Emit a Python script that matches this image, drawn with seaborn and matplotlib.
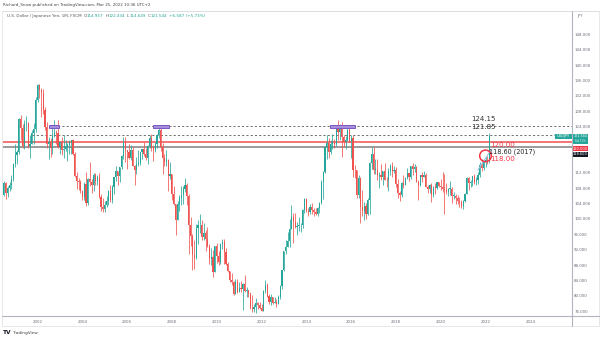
import numpy as np
import matplotlib
matplotlib.use("Agg")
import matplotlib.pyplot as plt
import seaborn as sns
from matplotlib.patches import Rectangle
from matplotlib.lines import Line2D

# ---------------- USD/JPY monthly candles (FXCM), Jul 2000 - Mar 2022 ----------------
first_month = 2000 + 6 / 12          # July 2000
first_open = 106.1
last_open = 114.957

closes = [
    109.4, 106.7, 108.1, 108.9, 110.4, 114.4,                                   # 2000 (Jul-Dec)
    116.5, 117.3, 126.0, 123.6, 119.0, 124.7, 124.9, 118.9, 119.5, 122.3, 123.5, 131.0,  # 2001
    134.7, 133.5, 132.7, 128.4, 124.0, 119.5, 119.9, 118.4, 121.6, 122.5, 122.3, 118.8,  # 2002
    119.9, 117.8, 118.1, 119.0, 119.3, 119.8, 120.6, 116.8, 111.2, 109.9, 109.6, 107.2,  # 2003
    105.7, 109.0, 104.2, 110.4, 109.6, 108.8, 111.4, 109.8, 110.9, 105.8, 103.1, 102.6,  # 2004
    103.6, 104.6, 107.2, 104.8, 108.4, 110.9, 112.5, 111.1, 113.4, 116.4, 119.7, 117.9,  # 2005
    117.4, 115.8, 117.8, 113.8, 112.6, 114.4, 114.6, 117.3, 118.1, 116.9, 115.8, 119.0,  # 2006
    121.0, 118.5, 117.8, 119.5, 121.7, 123.2, 118.7, 115.8, 114.8, 115.4, 111.2, 111.7,  # 2007
    106.4, 103.8, 99.7, 104.0, 105.5, 106.2, 107.9, 108.8, 106.0, 98.4, 95.5, 90.6,      # 2008
    89.9, 97.6, 98.3, 98.5, 95.3, 96.4, 94.7, 93.0, 89.7, 90.1, 86.3, 93.0,              # 2009
    90.3, 88.9, 93.5, 94.0, 91.3, 88.4, 86.4, 84.2, 83.5, 80.4, 83.6, 81.1,              # 2010
    82.0, 81.8, 83.1, 81.2, 81.5, 80.5, 76.8, 76.6, 77.0, 78.2, 77.6, 76.9,              # 2011
    76.2, 81.2, 82.9, 80.0, 78.3, 79.8, 78.1, 78.4, 77.9, 79.8, 82.5, 86.7,              # 2012
    91.7, 92.6, 94.2, 97.5, 100.5, 99.1, 97.9, 98.2, 98.3, 98.4, 102.4, 105.3,           # 2013
    102.0, 101.8, 103.2, 102.2, 101.8, 101.3, 102.8, 104.1, 109.7, 112.3, 118.6, 119.8,  # 2014
    117.5, 119.6, 120.1, 119.4, 124.1, 122.5, 123.9, 121.2, 119.9, 120.6, 123.1, 120.2,  # 2015
    121.1, 112.7, 112.6, 106.3, 110.7, 103.2, 102.1, 103.4, 101.4, 104.8, 114.5, 117.0,  # 2016
    112.8, 112.8, 111.4, 111.5, 110.8, 112.4, 110.2, 110.0, 112.5, 113.7, 112.5, 112.7,  # 2017
    109.2, 106.7, 106.3, 109.3, 108.8, 110.7, 111.9, 111.0, 113.7, 112.9, 113.5, 109.7,  # 2018
    108.9, 111.4, 110.9, 111.4, 108.3, 107.8, 108.7, 106.3, 108.1, 108.0, 109.5, 108.6,  # 2019
    108.4, 107.9, 107.5, 106.9, 107.8, 107.9, 105.9, 105.9, 105.5, 104.7, 104.3, 103.3,  # 2020
    104.7, 106.6, 110.7, 109.3, 109.6, 111.1, 109.7, 110.0, 111.3, 114.0, 113.2, 115.1,  # 2021
    115.1, 114.957, 121.544,                                                        # 2022
]

highs = [
    109.8, 109.5, 108.5, 109.6, 111.3, 114.6,
    119.4, 118.0, 126.2, 126.9, 124.8, 125.6, 126.7, 125.3, 121.9, 123.2, 124.9, 131.6,
    135.2, 135.1, 134.0, 133.8, 129.1, 125.1, 121.2, 121.0, 124.2, 125.7, 123.2, 125.6,
    120.2, 121.3, 121.7, 120.6, 119.7, 120.5, 120.6, 120.9, 117.4, 112.1, 110.7, 110.0,
    107.6, 109.6, 112.2, 110.6, 114.9, 110.5, 112.0, 112.0, 111.5, 111.9, 106.4, 105.4,
    104.6, 106.0, 107.5, 108.9, 108.7, 111.0, 113.7, 112.1, 113.6, 116.5, 121.4, 121.4,
    118.0, 119.4, 119.1, 118.7, 114.1, 116.0, 117.8, 117.5, 118.3, 119.9, 118.4, 119.2,
    121.9, 122.2, 119.3, 120.0, 122.1, 124.1, 124.0, 119.8, 117.0, 117.9, 115.6, 114.7,
    111.8, 108.5, 104.0, 104.7, 106.1, 108.6, 108.5, 110.7, 109.3, 106.5, 100.5, 96.2,
    94.6, 98.8, 99.7, 101.4, 99.6, 98.9, 97.0, 97.8, 93.4, 92.4, 92.0, 93.1,
    93.8, 91.8, 93.8, 94.8, 94.9, 92.4, 88.8, 86.5, 85.9, 84.0, 84.4, 84.5,
    83.7, 84.0, 83.3, 85.5, 82.2, 81.6, 81.0, 80.2, 77.9, 79.5, 78.3, 78.3,
    77.9, 81.6, 84.2, 83.3, 80.4, 80.6, 79.8, 79.6, 79.2, 80.3, 82.8, 86.8,
    91.8, 94.5, 96.7, 99.9, 103.7, 101.5, 101.5, 99.2, 100.6, 99.0, 102.6, 105.4,
    105.4, 102.8, 103.8, 104.1, 102.8, 102.8, 103.2, 104.5, 110.1, 112.5, 118.9, 121.8,
    121.0, 120.5, 122.0, 120.8, 124.5, 125.8, 124.6, 125.3, 121.7, 121.5, 123.8, 123.7,
    121.7, 121.7, 114.0, 112.2, 111.4, 110.9, 107.5, 104.3, 104.1, 105.5, 114.8, 118.7,
    118.6, 115.6, 115.5, 112.2, 114.4, 112.5, 114.5, 111.0, 113.3, 114.4, 114.7, 113.8,
    113.4, 110.5, 107.3, 109.5, 111.4, 111.0, 113.2, 112.0, 113.8, 114.6, 114.2, 113.8,
    110.0, 111.5, 112.1, 112.4, 112.0, 108.8, 109.0, 109.3, 108.5, 109.3, 109.7, 109.7,
    110.3, 112.2, 111.7, 109.4, 108.1, 109.8, 108.2, 107.0, 106.6, 106.1, 105.7, 104.8,
    104.9, 106.7, 110.9, 110.9, 110.2, 111.2, 111.7, 110.8, 112.1, 114.7, 115.5, 115.2,
    116.4, 116.3, 122.434,
]

lows = [
    105.9, 105.3, 105.8, 107.3, 107.8, 109.9,
    113.5, 114.3, 117.0, 120.5, 118.4, 118.2, 122.8, 118.4, 115.8, 119.5, 119.6, 122.6,
    130.4, 131.4, 126.4, 127.4, 123.1, 118.5, 115.5, 116.0, 116.8, 121.3, 119.6, 118.4,
    117.0, 116.7, 115.9, 117.6, 115.0, 116.8, 116.9, 116.6, 110.9, 107.9, 107.5, 106.7,
    104.9, 104.9, 103.4, 103.6, 108.5, 106.7, 107.3, 108.7, 108.9, 105.5, 102.0, 101.8,
    101.7, 103.2, 103.5, 104.5, 104.1, 106.6, 109.9, 108.9, 109.7, 113.0, 115.6, 114.8,
    112.9, 115.7, 115.3, 113.7, 108.9, 111.6, 113.8, 113.9, 115.5, 116.4, 115.2, 114.4,
    118.5, 117.6, 115.0, 117.4, 118.5, 121.1, 117.7, 111.6, 113.8, 113.8, 107.2, 110.4,
    104.9, 103.7, 95.8, 99.7, 102.0, 103.7, 103.8, 107.0, 103.5, 90.9, 92.9, 86.8,
    87.1, 89.5, 93.5, 96.4, 94.4, 94.6, 91.7, 92.6, 88.2, 88.0, 84.8, 86.4,
    88.5, 88.1, 88.2, 92.1, 88.2, 88.1, 86.2, 83.6, 82.9, 80.2, 80.4, 80.7,
    81.3, 81.1, 76.3, 81.1, 79.6, 79.7, 76.7, 75.9, 75.9, 75.6, 76.6, 76.6,
    76.0, 76.1, 80.7, 79.6, 78.0, 77.7, 77.9, 78.1, 77.1, 77.9, 79.1, 81.7,
    86.5, 90.9, 92.6, 92.6, 97.3, 93.8, 97.6, 95.8, 96.9, 96.6, 97.6, 101.6,
    101.8, 100.8, 101.2, 101.4, 100.8, 101.1, 100.8, 101.5, 103.8, 105.2, 112.0, 115.6,
    115.9, 116.9, 118.3, 118.5, 118.9, 120.4, 120.4, 116.2, 118.6, 118.1, 120.3, 120.0,
    115.9, 110.9, 110.7, 105.5, 105.5, 99.0, 100.7, 99.6, 100.1, 100.9, 101.2, 112.9,
    111.6, 111.6, 110.1, 108.1, 110.2, 108.8, 110.0, 108.3, 107.3, 111.5, 110.8, 111.9,
    108.3, 105.5, 104.6, 105.7, 108.1, 108.8, 110.3, 109.8, 110.4, 111.4, 112.3, 109.6,
    104.9, 108.5, 109.7, 110.8, 108.2, 106.8, 106.8, 104.5, 105.7, 106.5, 107.9, 108.4,
    107.6, 107.0, 101.2, 106.4, 105.9, 106.1, 104.2, 105.1, 104.0, 104.0, 103.2, 102.9,
    102.6, 104.4, 106.4, 107.5, 108.3, 108.6, 109.1, 108.7, 109.1, 110.8, 112.5, 112.6,
    113.5, 114.2, 114.649,
]

# Horizontal levels and their labels
resistance_levels = [124.15, 121.85]
level_120 = 120.00
level_2017 = 118.60
level_118 = 118.00
last_price = 121.544

# Purple markers on the 124.15 resistance: (start year, end year)
resistance_touches = [(2002.51, 2002.96), (2007.16, 2007.87), (2015.06, 2016.17)]

year_ticks = list(range(2002, 2025, 2))
# 116 and 120 sit under the price tags, so the scale does not print them
price_ticks = [76, 80, 84, 88, 92, 96, 100, 104, 108, 112, 124, 128, 132, 136, 140, 144, 148]

header_line1 = "Richard_Snow published on TradingView.com, Mar 25, 2022 10:36 UTC+2"
header_title = "U.S. Dollar / Japanese Yen, 1M, FXCM"
header_ohlc = [("O", "114.957"), ("H", "122.434"), ("L", "114.649"), ("C", "121.544")]
header_change = "+6.587 (+5.73%)"

# ---------------- styling ----------------
UP = "#26a69a"
DOWN = "#ef5350"
AXIS_LINE = "#b2b5be"

sns.set_theme(style="white")
plt.rcParams["font.family"] = ["DejaVu Sans"]

W, H = 601, 340
fig = plt.figure(figsize=(W / 100, H / 100), dpi=100)
fig.patch.set_facecolor("white")


def fx(px):
    return px / W


def fy(py):
    return 1 - py / H


# price pane in pixel geometry: x 3..572, y 10.7..316
ax = fig.add_axes([fx(3), fy(316), fx(572) - fx(3), fy(10.7) - fy(316)])
ax.set_facecolor("white")
for s in ax.spines.values():
    s.set_visible(False)

# axis scale: 22.4 px per year (2002 at x=37.5), 3.847 px per yen (148 at y=34.3)
ax.set_xlim(2002 + (3 - 37.5) / 22.4, 2002 + (572 - 37.5) / 22.4)
ax.set_ylim(148 - (316 - 34.3) / 3.847, 148 + (34.3 - 10.7) / 3.847)

# ---------------- candles ----------------
c = np.array(closes)
o = np.concatenate([[first_open], c[:-1]])
o[-1] = last_open
hi = np.maximum.reduce([np.array(highs), o, c])
lo = np.minimum.reduce([np.array(lows), o, c])
t = first_month + np.arange(len(c)) / 12
colors = np.where(c >= o, UP, DOWN)

ax.vlines(t, lo, hi, colors=colors, lw=0.55, zorder=3)
body_lo = np.minimum(o, c)
body_h = np.maximum(np.abs(c - o), 0.2)
ax.bar(t, body_h, bottom=body_lo, width=0.62 / 12, color=colors, linewidth=0, zorder=4)

# ---------------- levels ----------------
ax.axhline(level_120, color="#f26b6b", lw=1.3, zorder=2)
ax.axhline(level_2017, color="#8a8a8a", lw=1.2, zorder=2)
ax.hlines(resistance_levels[0], 2002.51, ax.get_xlim()[1], colors="#6f6f6f", lw=0.7,
          linestyles=(0, (2.2, 2.2)), zorder=2)
ax.hlines(resistance_levels[1], 2001.75, ax.get_xlim()[1], colors="#6f6f6f", lw=0.7,
          linestyles=(0, (2.2, 2.2)), zorder=2)

for t0, t1 in resistance_touches:
    ax.add_patch(Rectangle((t0, resistance_levels[0] - 0.4), t1 - t0, 0.8,
                           facecolor="#a58fdc", edgecolor="#7e57c2", lw=0.7, zorder=5))

# short trend line under the last candles
ax.plot([2021.66, 2022.24], [112.7, 117.9], color="#9cc3ea", lw=0.8, zorder=5)

# red circle on the breakout
ax.scatter([2022.0], [116.4], s=70, facecolors="none", edgecolors="#f23645", linewidths=1.1, zorder=6)

# value labels
ax.annotate(f"{resistance_levels[0]:.2f}", (2021.9, resistance_levels[0]), xytext=(0, 3.2),
            textcoords="offset points", ha="center", va="bottom", fontsize=5, color="#333333", zorder=7)
ax.annotate(f"{resistance_levels[1]:.2f}", (2021.9, resistance_levels[1]), xytext=(0, 3.2),
            textcoords="offset points", ha="center", va="bottom", fontsize=5, color="#333333", zorder=7)
ax.annotate(f"{level_120:.2f}", (2022.2, level_120), xytext=(0, 0.2),
            textcoords="offset points", ha="left", va="top", fontsize=5.1, color="#f23645", zorder=7)
ax.annotate(f"{level_2017:.2f} (2017)", (2022.15, level_2017), xytext=(0, -0.6),
            textcoords="offset points", ha="left", va="top", fontsize=4.7, color="#222222", zorder=8)
ax.annotate(f"{level_118:.2f}", (2022.22, level_118), xytext=(0, -4.2),
            textcoords="offset points", ha="left", va="top", fontsize=5.1, color="#f23645", zorder=7)

# ---------------- ticks ----------------
ax.set_xticks(year_ticks)
ax.set_xticklabels([str(y) for y in year_ticks])
ax.tick_params(axis="x", length=0, labelsize=2.9, colors="#6a6d78", pad=2.6)
ax.yaxis.tick_right()
ax.set_yticks(price_ticks)
ax.set_yticklabels([f"{v:.3f}" for v in price_ticks])
ax.tick_params(axis="y", length=0, labelsize=2.8, colors="#6a6d78", pad=1.6)
ax.grid(False)


# ---------------- frame lines ----------------
def hline_px(y, x0, x1, color, lw=0.6):
    fig.add_artist(Line2D([fx(x0), fx(x1)], [fy(y), fy(y)], color=color, lw=lw))


def vline_px(x, y0, y1, color, lw=0.6):
    fig.add_artist(Line2D([fx(x), fx(x)], [fy(y0), fy(y1)], color=color, lw=lw))


hline_px(10.5, 2, 599, "#d6d8de")
hline_px(326, 2, 599, "#e3e4e8")
vline_px(2, 10.5, 326, "#e3e4e8")
vline_px(599, 10.5, 326, "#e3e4e8")
vline_px(572.3, 10.5, 326, AXIS_LINE, 0.8)
hline_px(316.3, 2, 599, AXIS_LINE, 0.8)


# ---------------- price tags on the right axis ----------------
def tag(x0, x1, y0, y1, color):
    fig.add_artist(Rectangle((fx(x0), fy(y1)), fx(x1) - fx(x0), fy(y0) - fy(y1),
                             facecolor=color, edgecolor="none", transform=fig.transFigure))


tag(555, 571.5, 134, 138.8, UP)
fig.text(fx(563.2), fy(136.4), "USDJPY", fontsize=2.6, color="white", ha="center", va="center")
tag(572.5, 588, 133.6, 143.6, UP)
fig.text(fx(580.2), fy(136.0), f"{last_price:.3f}", fontsize=2.4, color="white", ha="center", va="center")
fig.text(fx(580.2), fy(141.3), "6d 13h", fontsize=2.2, color="#e6f5f3", ha="center", va="center")
tag(572.5, 588, 146, 151.3, "#f23645")
fig.text(fx(580.2), fy(148.7), f"{level_120:.3f}", fontsize=2.6, color="white", ha="center", va="center")
tag(572.5, 588, 152, 156.8, "#131722")
fig.text(fx(580.2), fy(154.4), f"{level_2017:.3f}", fontsize=2.6, color="white", ha="center", va="center")

fig.text(fx(580), fy(16.2), "JPY", fontsize=2.7, color="#6a6d78", ha="center", va="center")

# ---------------- header ----------------
fig.text(fx(3), fy(5.2), header_line1, fontsize=2.9, color="#444444", ha="left", va="center")

renderer = fig.canvas.get_renderer()
x_cursor = fx(7)
ty = fy(16.3)


def put(txt, color, gap=0.0):
    global x_cursor
    tt = fig.text(x_cursor + gap, ty, txt, fontsize=3.0, color=color, ha="left", va="center")
    bb = tt.get_window_extent(renderer=renderer)
    x_cursor = bb.x1 / W
    return tt


put(header_title, "#555555")
for k, v in header_ohlc:
    put(k, "#555555", gap=fx(2.0))
    put(v, UP)
put(header_change, UP, gap=fx(2.0))

# ---------------- footer logo ----------------
fig.text(fx(3), fy(333), "TV", fontsize=4.2, fontweight="bold", color="#131722", ha="left", va="center")
fig.text(fx(12.5), fy(333.2), "TradingView", fontsize=3.1, color="#444444", ha="left", va="center")

fig.savefig("out.png", dpi=100, facecolor="white")
